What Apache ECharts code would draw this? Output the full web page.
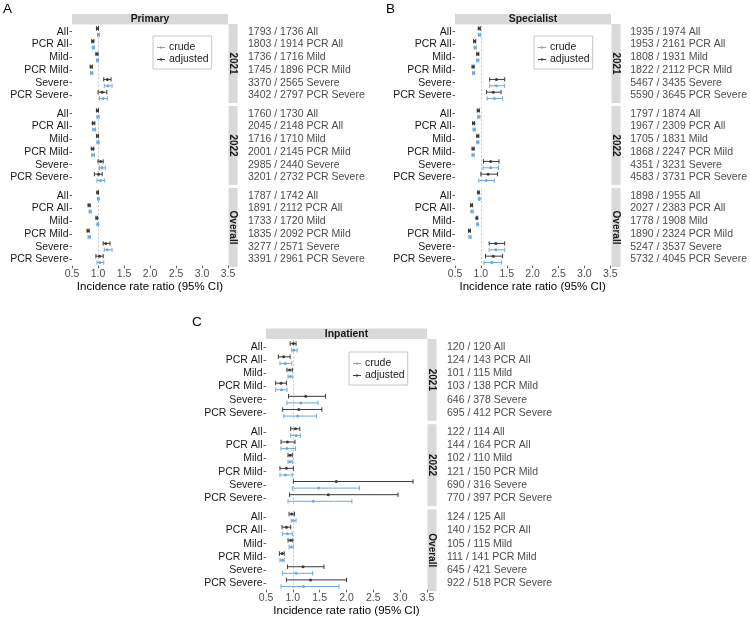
<!DOCTYPE html>
<html>
<head>
<meta charset="utf-8">
<script src="https://cdn.jsdelivr.net/npm/echarts@6/dist/echarts.min.js"></script>
<style>
  html, body { margin: 0; padding: 0; background: #fff; }
  #chart { width: 750px; height: 619px; }
</style>
</head>
<body>
<div id="chart"></div>
<script>
// rows and facets
const rowLabels = ['All', 'PCR All', 'Mild', 'PCR Mild', 'Severe', 'PCR Severe'];
const facets = ['2021', '2022', 'Overall'];
const panels = ['Primary', 'Specialist', 'Inpatient'];
const letters = ['A', 'B', 'C'];
const xTicks = [0.5, 3.5, 0.5]; // min, max, step
const refValue = 1;

// [estimate, lower, upper], 2021 rows then 2022 rows then Overall rows
const primaryAdjusted = [
  [0.99, 0.97, 1.01], [0.90, 0.88, 0.92], [0.98, 0.96, 1.00], [0.87, 0.85, 0.89], [1.18, 1.11, 1.25], [1.08, 1.00, 1.17],
  [0.99, 0.97, 1.01], [0.91, 0.89, 0.94], [0.99, 0.97, 1.01], [0.90, 0.87, 0.92], [1.05, 1.00, 1.10], [1.01, 0.93, 1.08],
  [0.99, 0.98, 1.01], [0.83, 0.81, 0.85], [0.98, 0.96, 0.99], [0.81, 0.79, 0.83], [1.15, 1.10, 1.23], [1.03, 0.96, 1.10]
];
const primaryCrude = [
  [1.01, 0.99, 1.03], [0.91, 0.89, 0.93], [0.99, 0.97, 1.01], [0.88, 0.86, 0.90], [1.19, 1.12, 1.27], [1.10, 1.03, 1.18],
  [1.00, 0.98, 1.02], [0.92, 0.90, 0.95], [1.00, 0.98, 1.02], [0.90, 0.88, 0.93], [1.08, 1.03, 1.14], [1.05, 0.98, 1.13],
  [1.01, 0.99, 1.02], [0.85, 0.83, 0.87], [1.00, 0.98, 1.01], [0.83, 0.81, 0.85], [1.18, 1.12, 1.27], [1.04, 0.98, 1.11]
];
const specialistAdjusted = [
  [0.97, 0.95, 0.99], [0.88, 0.86, 0.90], [0.94, 0.92, 0.96], [0.85, 0.83, 0.87], [1.30, 1.17, 1.46], [1.24, 1.11, 1.39],
  [0.95, 0.93, 0.97], [0.86, 0.84, 0.88], [0.94, 0.92, 0.96], [0.85, 0.83, 0.87], [1.19, 1.05, 1.35], [1.14, 1.00, 1.32],
  [0.95, 0.94, 0.97], [0.82, 0.80, 0.84], [0.92, 0.91, 0.94], [0.78, 0.76, 0.80], [1.29, 1.16, 1.46], [1.24, 1.09, 1.42]
];
const specialistCrude = [
  [0.97, 0.95, 0.99], [0.89, 0.87, 0.91], [0.94, 0.92, 0.96], [0.86, 0.84, 0.88], [1.30, 1.17, 1.46], [1.26, 1.12, 1.42],
  [0.96, 0.94, 0.98], [0.87, 0.85, 0.89], [0.94, 0.92, 0.96], [0.85, 0.83, 0.87], [1.19, 1.04, 1.34], [1.10, 0.96, 1.26],
  [0.97, 0.95, 0.98], [0.83, 0.81, 0.85], [0.94, 0.92, 0.95], [0.79, 0.77, 0.81], [1.29, 1.16, 1.46], [1.21, 1.06, 1.40]
];
const inpatientAdjusted = [
  [1.01, 0.95, 1.06], [0.83, 0.73, 0.95], [0.94, 0.89, 0.99], [0.78, 0.68, 0.88], [1.24, 0.92, 1.61], [1.11, 0.81, 1.54],
  [1.05, 0.96, 1.13], [0.90, 0.78, 1.04], [0.95, 0.91, 0.99], [0.88, 0.76, 1.01], [1.81, 1.01, 3.24], [1.66, 0.94, 2.96],
  [0.98, 0.93, 1.03], [0.88, 0.80, 0.96], [0.96, 0.91, 1.00], [0.80, 0.75, 0.84], [1.19, 0.90, 1.58], [1.33, 0.88, 2.00]
];
const inpatientCrude = [
  [1.02, 0.98, 1.08], [0.86, 0.76, 0.98], [0.95, 0.91, 0.99], [0.79, 0.68, 0.89], [1.15, 0.89, 1.47], [1.09, 0.83, 1.44],
  [1.06, 0.96, 1.14], [0.89, 0.78, 1.05], [0.95, 0.91, 0.99], [0.86, 0.76, 0.99], [1.48, 0.99, 2.24], [1.38, 0.91, 2.10],
  [1.01, 0.97, 1.06], [0.90, 0.81, 0.99], [0.97, 0.93, 1.01], [0.80, 0.76, 0.84], [1.06, 0.81, 1.37], [1.20, 0.78, 1.86]
];

// text column to the right of each facet
const primaryCounts = [
  '1793 / 1736 All', '1803 / 1914 PCR All', '1736 / 1716 Mild', '1745 / 1896 PCR Mild', '3370 / 2565 Severe', '3402 / 2797 PCR Severe',
  '1760 / 1730 All', '2045 / 2148 PCR All', '1716 / 1710 Mild', '2001 / 2145 PCR Mild', '2985 / 2440 Severe', '3201 / 2732 PCR Severe',
  '1787 / 1742 All', '1891 / 2112 PCR All', '1733 / 1720 Mild', '1835 / 2092 PCR Mild', '3277 / 2571 Severe', '3391 / 2961 PCR Severe'
];
const specialistCounts = [
  '1935 / 1974 All', '1953 / 2161 PCR All', '1808 / 1931 Mild', '1822 / 2112 PCR Mild', '5467 / 3435 Severe', '5590 / 3645 PCR Severe',
  '1797 / 1874 All', '1967 / 2309 PCR All', '1705 / 1831 Mild', '1868 / 2247 PCR Mild', '4351 / 3231 Severe', '4583 / 3731 PCR Severe',
  '1898 / 1955 All', '2027 / 2383 PCR All', '1778 / 1908 Mild', '1890 / 2324 PCR Mild', '5247 / 3537 Severe', '5732 / 4045 PCR Severe'
];
const inpatientCounts = [
  '120 / 120 All', '124 / 143 PCR All', '101 / 115 Mild', '103 / 138 PCR Mild', '646 / 378 Severe', '695 / 412 PCR Severe',
  '122 / 114 All', '144 / 164 PCR All', '102 / 110 Mild', '121 / 150 PCR Mild', '690 / 316 Severe', '770 / 397 PCR Severe',
  '124 / 125 All', '140 / 152 PCR All', '105 / 115 Mild', '111 / 141 PCR Mild', '645 / 421 Severe', '922 / 518 PCR Severe'
];

const adjustedData = [primaryAdjusted, specialistAdjusted, inpatientAdjusted];
const crudeData = [primaryCrude, specialistCrude, inpatientCrude];
const countData = [primaryCounts, specialistCounts, inpatientCounts];

// layout (pixels)
const FONT = "'Liberation Sans', Arial, sans-serif";
const CRUDE = '#6fa8dc';
const ADJ = '#3a3a3a';
const STRIP = '#d9d9d9';
const layout = [
  { left: 72, width: 156, header: 14, tops: [24, 106, 188], facetH: 79, letter: [3, 2], legend: [153, 36] },
  { left: 455, width: 156, header: 14, tops: [24, 106, 188], facetH: 79, letter: [386, 2], legend: [534, 36] },
  { left: 266, width: 161, header: 328.5, tops: [339, 424.2, 509.4], facetH: 81.7, letter: [192, 315], legend: [349, 352] }
];

function errorBar(shift) {
  return function (params, api) {
    const row = api.value(0);
    const band = api.size([0, 1])[1];
    const pEst = api.coord([api.value(1), row]);
    const pLo = api.coord([api.value(2), row]);
    const pHi = api.coord([api.value(3), row]);
    const y = pEst[1] + band * shift;
    const cap = band * 0.17;
    const color = api.visual('color');
    const st = { stroke: color, lineWidth: 1 };
    return {
      type: 'group',
      children: [
        { type: 'line', shape: { x1: pLo[0], y1: y, x2: pHi[0], y2: y }, style: st },
        { type: 'line', shape: { x1: pLo[0], y1: y - cap, x2: pLo[0], y2: y + cap }, style: st },
        { type: 'line', shape: { x1: pHi[0], y1: y - cap, x2: pHi[0], y2: y + cap }, style: st },
        { type: 'circle', shape: { cx: pEst[0], cy: y, r: 1.5 }, style: { fill: color } }
      ]
    };
  };
}

const grid = [], xAxis = [], yAxis = [], series = [], graphic = [], legend = [];

panels.forEach((pname, p) => {
  const L = layout[p];
  const band = L.facetH / 6.2;

  // header strip
  graphic.push({ type: 'rect', shape: { x: L.left, y: L.header, width: L.width, height: 10.5 }, style: { fill: STRIP }, silent: true });
  graphic.push({ type: 'text', x: L.left + L.width / 2, y: L.header + 5.5, silent: true,
    style: { text: pname, align: 'center', verticalAlign: 'middle', font: 'bold 10.4px ' + FONT, fill: '#1a1a1a' } });
  graphic.push({ type: 'text', x: L.letter[0], y: L.letter[1], silent: true,
    style: { text: letters[p], align: 'left', verticalAlign: 'top', font: '13.5px ' + FONT, fill: '#000' } });

  legend.push({
    data: ['crude', 'adjusted'],
    orient: 'vertical', left: L.legend[0], top: L.legend[1],
    padding: [6, 3, 4, 4], itemGap: 1, itemWidth: 8, itemHeight: 5,
    borderColor: '#b8b8b8', borderWidth: 0.8, borderRadius: 0,
    icon: 'path://M0,4.4H10V5.6H0Z M5,3.2L6.8,5L5,6.8L3.2,5Z',
    textStyle: { fontFamily: FONT, fontSize: 10.5, color: '#1a1a1a', lineHeight: 10, padding: [0, 0, 0, -1] },
    selectedMode: false
  });

  facets.forEach((fname, f) => {
    const g = p * 3 + f;
    const top = L.tops[f];
    const bottom = f === facets.length - 1;
    grid.push({ left: L.left, width: L.width, top: top + 0.1 * band, height: 6 * band });

    // facet strip on the right
    graphic.push({ type: 'rect', shape: { x: L.left + L.width + 0.5, y: top, width: 9, height: L.facetH }, style: { fill: STRIP }, silent: true });
    graphic.push({ type: 'text', x: L.left + L.width + 5, y: top + L.facetH / 2, rotation: -Math.PI / 2, silent: true,
      style: { text: fname, align: 'center', verticalAlign: 'middle', font: 'bold 10px ' + FONT, fill: '#1a1a1a' } });

    xAxis.push({
      type: 'value', gridIndex: g, min: xTicks[0], max: xTicks[1], interval: xTicks[2],
      show: true,
      axisLine: { show: false },
      axisTick: { show: bottom, length: 2.5, lineStyle: { color: '#333', width: 0.8 } },
      axisLabel: { show: bottom, margin: 2.5, color: '#4d4d4d', fontFamily: FONT, fontSize: 10.5, formatter: v => v.toFixed(1) },
      splitLine: { show: false },
      name: bottom ? 'Incidence rate ratio (95% CI)' : '',
      nameLocation: 'middle', nameGap: 15.5,
      nameTextStyle: { fontFamily: FONT, fontSize: 11.5, color: '#000' }
    });
    yAxis.push({
      type: 'category', gridIndex: g, data: rowLabels, inverse: true,
      axisLine: { show: false },
      axisTick: { show: true, alignWithLabel: true, length: 2.5, interval: 0, lineStyle: { color: '#333', width: 0.8 } },
      axisLabel: { margin: 3.5, interval: 0, color: '#1a1a1a', fontFamily: FONT, fontSize: 10.5 },
      splitLine: { show: false }
    });
    yAxis.push({
      type: 'category', gridIndex: g, position: 'right', inverse: true,
      data: countData[p].slice(f * 6, f * 6 + 6),
      axisLine: { show: false }, axisTick: { show: false },
      axisLabel: { margin: 20, interval: 0, color: '#4d4d4d', fontFamily: FONT, fontSize: 10.5 },
      splitLine: { show: false }
    });

    const rows = (arr) => arr.slice(f * 6, f * 6 + 6).map((d, i) => [i, d[0], d[1], d[2]]);
    series.push({
      type: 'custom', name: 'crude', xAxisIndex: g, yAxisIndex: 2 * g,
      itemStyle: { color: CRUDE },
      renderItem: errorBar(0.25),
      encode: { x: [1, 2, 3], y: 0 },
      data: rows(crudeData[p]),
      z: 3
    });
    series.push({
      type: 'custom', name: 'adjusted', xAxisIndex: g, yAxisIndex: 2 * g,
      itemStyle: { color: ADJ },
      renderItem: errorBar(-0.25),
      encode: { x: [1, 2, 3], y: 0 },
      data: rows(adjustedData[p]),
      z: 3,
      markLine: {
        silent: true, symbol: 'none', animation: false, z: 1,
        label: { show: false },
        lineStyle: { color: '#b0b0b0', type: [2, 2], width: 0.7 },
        data: [{ xAxis: refValue }]
      }
    });
  });
});

const chart = echarts.init(document.getElementById('chart'), null, { renderer: 'canvas' });
chart.setOption({
  backgroundColor: '#fff',
  animation: false,
  textStyle: { fontFamily: FONT },
  grid, xAxis, yAxis, series, legend, graphic
});
</script>
</body>
</html>
